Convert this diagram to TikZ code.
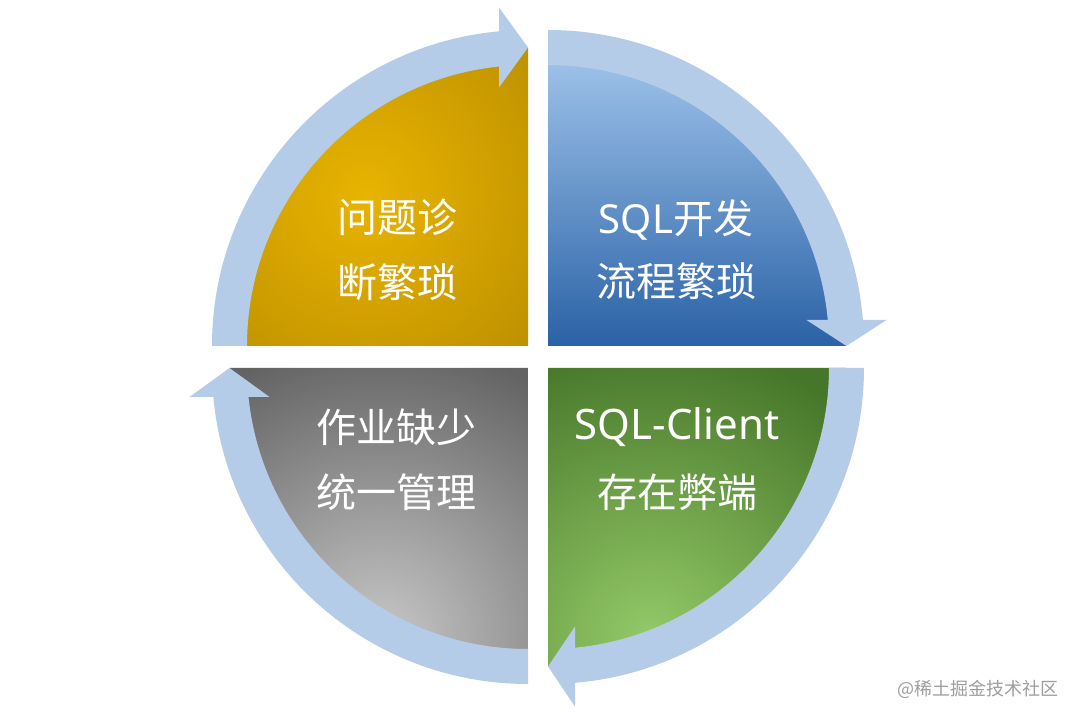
\documentclass[tikz,border=0pt]{standalone}
\usepackage{fontspec}
\setmainfont{Noto Sans CJK SC}
\newfontfamily\cjkf{Noto Sans CJK SC}
\newfontfamily\latf{Noto Sans}
\usetikzlibrary{calc}
\definecolor{ringc}{RGB}{181,204,233}
\definecolor{goldA}{RGB}{232,180,0}
\definecolor{goldB}{RGB}{182,138,0}
\definecolor{blueT}{RGB}{162,198,236}
\definecolor{blueB}{RGB}{42,98,166}
\definecolor{greenA}{RGB}{148,202,104}
\definecolor{greenB}{RGB}{70,118,41}
\definecolor{grayA}{RGB}{200,200,200}
\definecolor{grayB}{RGB}{99,99,99}
\definecolor{wmark}{RGB}{158,158,158}
\pgfdeclareradialshading{goldsh}{\pgfpoint{0bp}{0bp}}{color(0bp)=(goldA); color(22bp)=(goldB); color(50bp)=(goldB)}
\pgfdeclareradialshading{greensh}{\pgfpoint{0bp}{0bp}}{color(0bp)=(greenA); color(20bp)=(greenB); color(50bp)=(greenB)}
\pgfdeclareradialshading{graysh}{\pgfpoint{0bp}{0bp}}{color(0bp)=(grayA); color(20bp)=(grayB); color(50bp)=(grayB)}
\tikzset{
  ring/.style={fill=ringc},
  lbl/.style={text=white, anchor=base, inner sep=0pt, font=\fontsize{40}{48}\selectfont},
  wm/.style={text=wmark, anchor=base, inner sep=0pt, font=\fontsize{18}{22}\selectfont}
}
\begin{document}
\begin{tikzpicture}[x=1pt,y=1pt]
\useasboundingbox (0,0) rectangle (1080,720);
\fill[white] (0,0) rectangle (1080,720);
\def\rmid{298.5}
\def\rin{281}
\def\rout{316}
\coordinate (G) at (528,374);
\coordinate (B) at (548,374);
\coordinate (N) at (548,352);
\coordinate (A) at (528,352);

% ---- sectors ----
\begin{scope}
  \clip (G) -- ++(180:\rmid) arc[start angle=180,end angle=90,radius=\rmid] -- cycle;
  \shade[shading=goldsh] (365,525) circle (300);
\end{scope}
\shade[top color=blueT, bottom color=blueB] (B) -- ++(90:\rmid) arc[start angle=90,end angle=0,radius=\rmid] -- cycle;
\begin{scope}
  \clip (N) -- ++(0:\rmid) arc[start angle=0,end angle=-90,radius=\rmid] -- cycle;
  \shade[shading=greensh] (650,80) circle (375);
\end{scope}
\begin{scope}
  \clip (A) -- ++(270:\rmid) arc[start angle=270,end angle=180,radius=\rmid] -- cycle;
  \shade[shading=graysh] (380,80) circle (375);
\end{scope}

% ---- ring arrows ----
% gold: left -> top
\fill[ring] ($(G)+(180:\rout)$) arc[start angle=180,end angle=95,radius=\rout]
  -- ($(G)+(95:\rin)$) arc[start angle=95,end angle=180,radius=\rin] -- cycle;
\fill[ring] ($(G)+(0,\rmid)$) -- ++(-29,40) -- ++(0,-80) -- cycle;
% blue: top -> right
\fill[ring] ($(B)+(90:\rout)$) arc[start angle=90,end angle=4.5,radius=\rout]
  -- ($(B)+(4.5:\rin)$) arc[start angle=4.5,end angle=90,radius=\rin] -- cycle;
\fill[ring] ($(B)+(\rmid,0)$) -- ++(-40,26) -- ++(80,0) -- cycle;
% green: right -> bottom
\fill[ring] ($(N)+(0:\rout)$) arc[start angle=0,end angle=-85.5,radius=\rout]
  -- ($(N)+(-85.5:\rin)$) arc[start angle=-85.5,end angle=0,radius=\rin] -- cycle;
\fill[ring] ($(N)+(0,-\rmid)$) -- ++(27,40) -- ++(0,-80) -- cycle;
% gray: bottom -> left
\fill[ring] ($(A)+(270:\rout)$) arc[start angle=270,end angle=185,radius=\rout]
  -- ($(A)+(185:\rin)$) arc[start angle=185,end angle=270,radius=\rin] -- cycle;
\fill[ring] ($(A)+(-\rmid,0)$) -- ++(-40,-29) -- ++(80,0) -- cycle;

% ---- labels ----
\node[lbl] (g1) at (397,487) {问题诊};
\node[lbl] (g2) at (397,422) {断繁琐};
\node[lbl] (b1) at (676,486) {{\latf SQL}开发};
\node[lbl] (b2) at (676,423) {流程繁琐};
\node[lbl] (y1) at (396,277) {作业缺少};
\node[lbl] (y2) at (396,212) {统一管理};
\node[lbl, font=\fontsize{42}{48}\selectfont] (n1) at (677,280) {\latf SQL-Client};
\node[lbl] (n2) at (677,212) {存在弊端};

\node[wm] (wm) at (978,24) {@稀土掘金技术社区};
\end{tikzpicture}
\end{document}
